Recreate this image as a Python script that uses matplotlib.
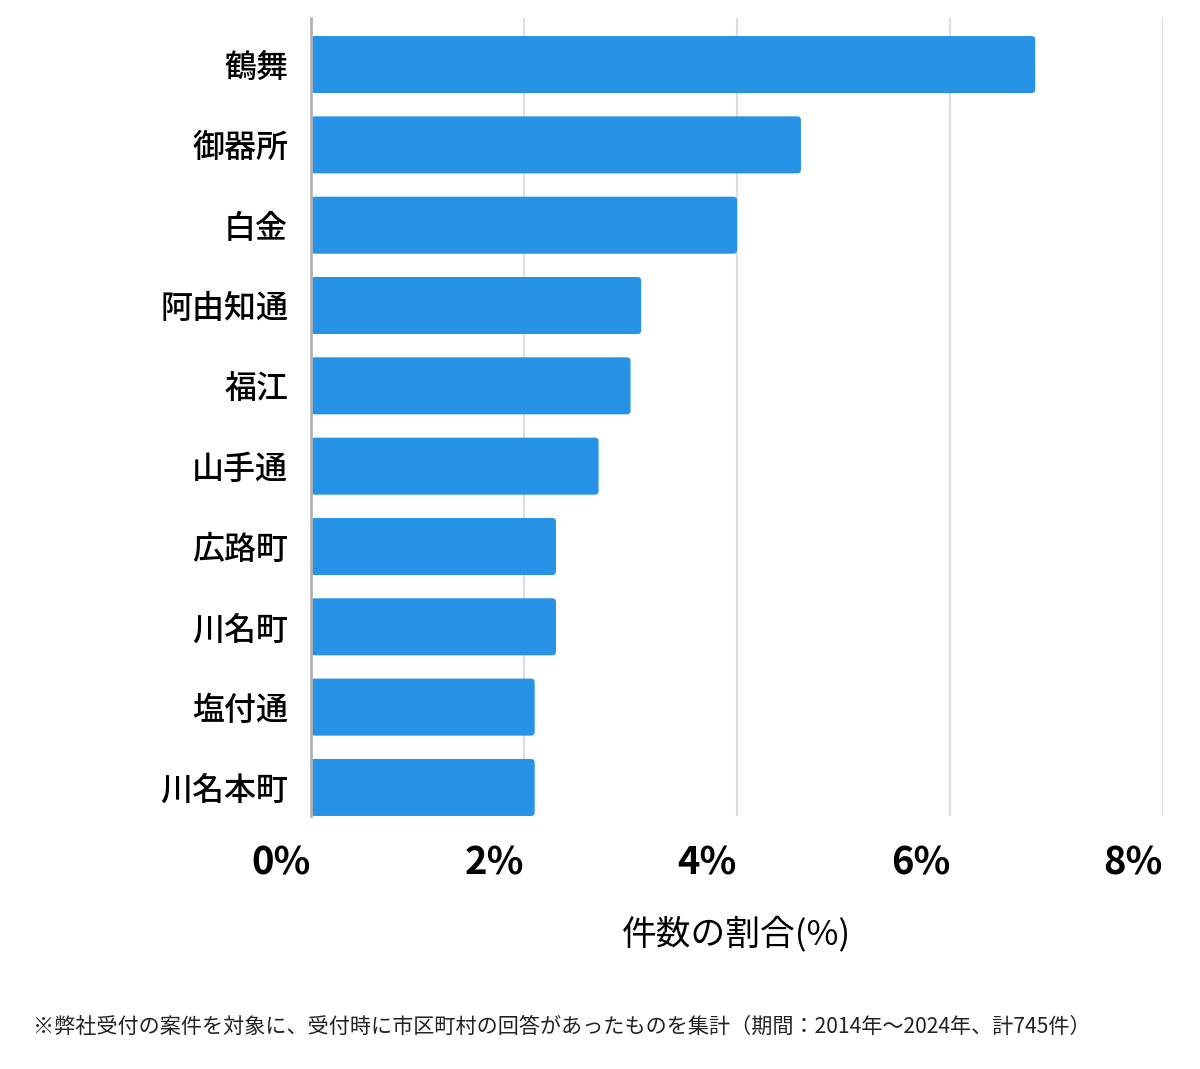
import matplotlib
matplotlib.use('Agg')

import matplotlib.pyplot as plt
from matplotlib.patches import FancyBboxPatch

plt.rcParams['font.family'] = ['Noto Sans CJK JP', 'DejaVu Sans']

areas = ['鶴舞', '御器所', '白金', '阿由知通', '福江', '山手通', '広路町', '川名町', '塩付通', '川名本町']
shares = [6.8, 4.6, 4.0, 3.1, 3.0, 2.7, 2.3, 2.3, 2.1, 2.1]
xticks = [0, 2, 4, 6, 8]
xtick_labels = ['0%', '2%', '4%', '6%', '8%']
bar_color = '#2693e6'
bar_h = 0.71

fig = plt.figure(figsize=(12, 10.69), dpi=100)
ax = fig.add_axes([0.2592, 0.2367, 0.71, 0.7465])

ypos = list(range(len(areas)))
bars = ax.barh(ypos, shares, height=bar_h, color=bar_color, zorder=3)

# swap plain rectangles for slightly rounded ones
for b in bars:
    x, y = b.get_x(), b.get_y()
    w, h = b.get_width(), b.get_height()
    b.set_visible(False)
    patch = FancyBboxPatch((x, y), w, h,
                           boxstyle='round,pad=0,rounding_size=0.035',
                           mutation_aspect=1.33,
                           facecolor=bar_color, edgecolor='none', zorder=3)
    ax.add_patch(patch)

ax.set_xlim(0, 8)
ax.set_ylim(len(areas) - 1 + bar_h / 2, -0.58)

ax.set_xticks(xticks)
ax.set_xticklabels(xtick_labels, fontsize=27.5, fontweight='bold', ha='right')
ax.set_yticks(ypos)
ax.set_yticklabels(areas, fontsize=23, fontweight='medium')
ax.tick_params(axis='x', length=0, pad=20)
ax.tick_params(axis='y', length=0, pad=16.5)

ax.grid(axis='x', color='#dddddd', linewidth=1.5, zorder=0)
for s in ['top', 'right', 'bottom']:
    ax.spines[s].set_visible(False)
ax.spines['left'].set_color('#b3b3b3')
ax.spines['left'].set_linewidth(2)
ax.spines['left'].set_zorder(4)

ax.set_xlabel('件数の割合(%)', fontsize=25, labelpad=24)

fig.text(0.0275, 0.0395,
         '※弊社受付の案件を対象に、受付時に市区町村の回答があったものを集計（期間：2014年～2024年、計745件）',
         fontsize=15.2, color='#222222', ha='left', va='center')

fig.savefig('out.png', dpi=100)
